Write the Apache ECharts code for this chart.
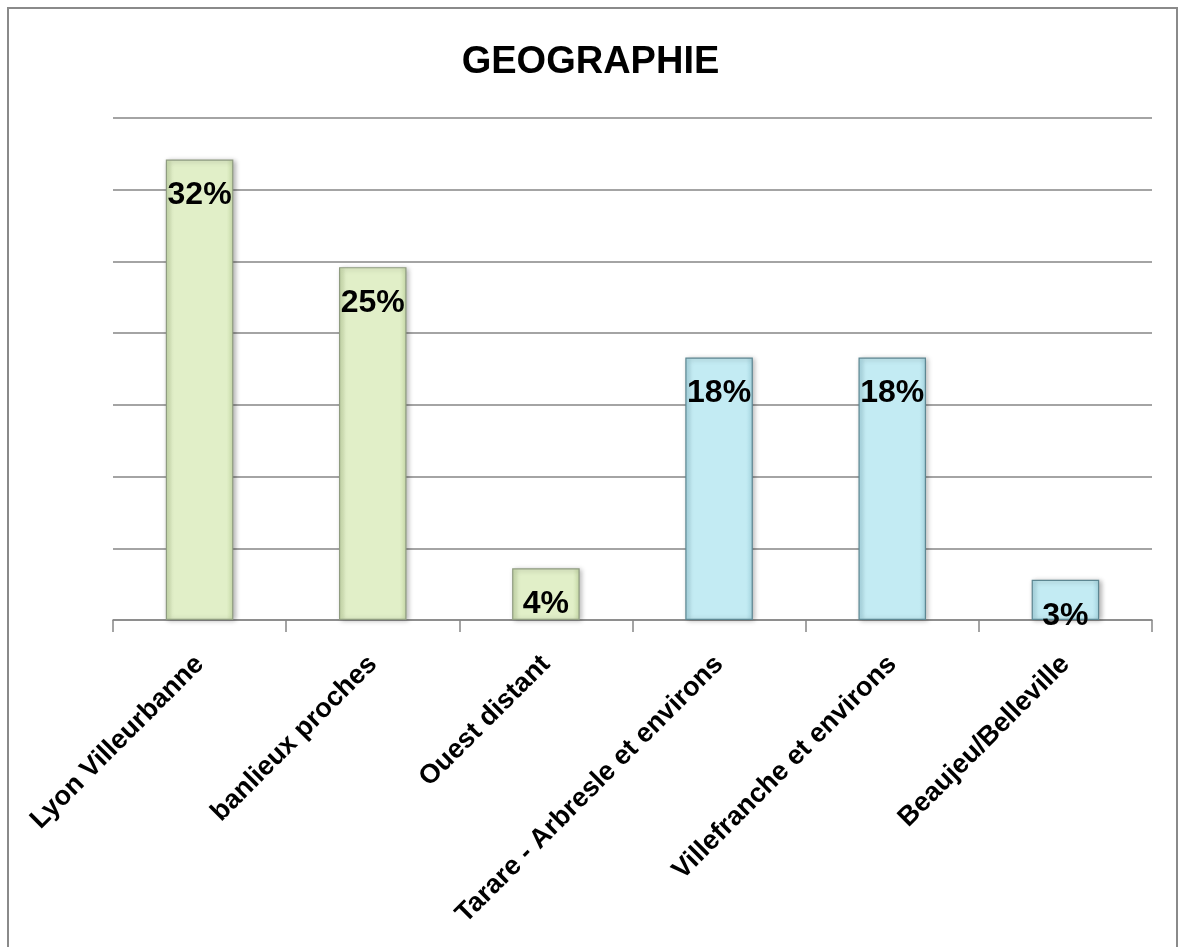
<!DOCTYPE html>
<html><head><meta charset="utf-8">
<script src="https://cdn.jsdelivr.net/npm/echarts@6/dist/echarts.min.js"></script>
<style>
html,body{margin:0;padding:0;background:#fff;}
#frame{position:absolute;left:7px;top:7px;width:1171px;height:960px;border:2px solid #8a8a8a;border-bottom:none;box-sizing:border-box;}
#c{position:absolute;left:0;top:0;width:1181px;height:947px;}
</style></head>
<body>
<div id="frame"></div>
<div id="c"></div>
<script>
const title = 'GEOGRAPHIE';
const categories = ['Lyon Villeurbanne', 'banlieux proches', 'Ouest distant', 'Tarare - Arbresle et environs', 'Villefranche et environs', 'Beaujeu/Belleville'];
const values = [32.1, 24.6, 3.6, 18.3, 18.3, 2.8];
const groups = ['green', 'green', 'green', 'blue', 'blue', 'blue'];

const palette = {
  green: {edge: '#c9dcaa', face: '#e1efc8', border: '#8f9c80'},
  blue: {edge: '#a8d8e3', face: '#c3ebf3', border: '#5d8792'}
};

const chart = echarts.init(document.getElementById('c'));
chart.setOption({
  animation: false,
  title: {
    text: title, left: 'center', top: 39,
    textStyle: {fontFamily: 'Liberation Sans', fontWeight: 'bold', fontSize: 38, color: '#000'}
  },
  grid: {left: 113, right: 29, top: 118, bottom: 327},
  xAxis: {
    type: 'category', data: categories,
    axisLine: {lineStyle: {color: '#868686', width: 1.5}},
    axisTick: {show: true, length: 12, lineStyle: {color: '#868686', width: 1.5}},
    axisLabel: {rotate: 45, interval: 0, margin: 40, fontFamily: 'Liberation Sans', fontWeight: 'bold', fontSize: 27, color: '#000'}
  },
  yAxis: {
    type: 'value', min: 0, max: 35, interval: 5,
    axisLabel: {show: false}, axisLine: {show: false}, axisTick: {show: false},
    splitLine: {lineStyle: {color: '#868686', width: 1.5}}
  },
  series: [{
    type: 'bar', barWidth: '39%',
    data: values.map((v, i) => {
      const p = palette[groups[i]];
      return {
        value: v,
        itemStyle: {
          color: {type: 'linear', x: 0, y: 0, x2: 1, y2: 0, colorStops: [
            {offset: 0, color: p.edge}, {offset: 0.1, color: p.face}, {offset: 0.9, color: p.face}, {offset: 1, color: p.edge}]},
          borderColor: p.border, borderWidth: 1.2,
          shadowColor: 'rgba(0,0,0,0.3)', shadowBlur: 5, shadowOffsetX: 2, shadowOffsetY: 1
        }
      };
    }),
    label: {
      show: true, position: 'insideTop', distance: 20,
      formatter: p => Math.round(p.value) + '%',
      fontFamily: 'Liberation Sans', fontWeight: 'bold', fontSize: 32, color: '#000'
    }
  }]
});
</script>
</body></html>
